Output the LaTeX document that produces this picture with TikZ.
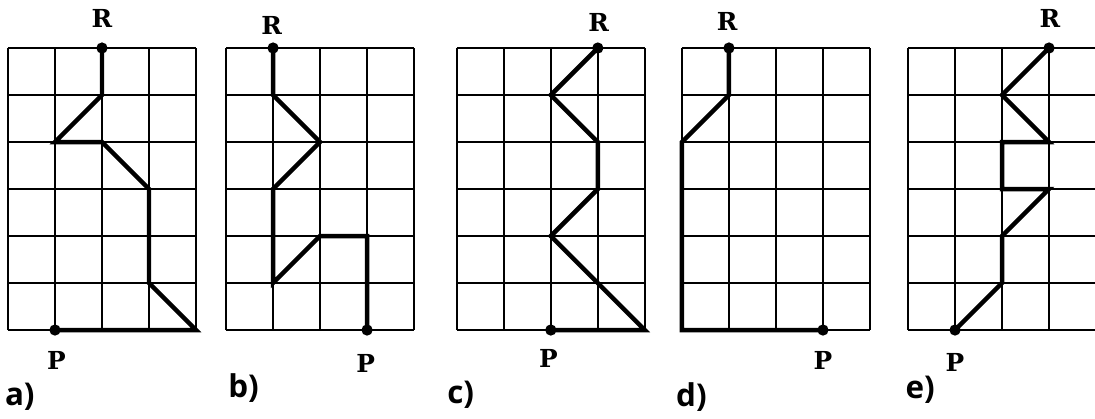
\documentclass[tikz,border=0pt]{standalone}
\usepackage{fontspec}
\newfontfamily\pointfont{DejaVu Serif}
\newfontfamily\taskfont{Open Sans}
\usetikzlibrary{positioning}

\tikzset{
  gridline/.style={black,line width=0.9pt},
  route/.style={black,line width=2.7pt,line join=miter,line cap=round},
  enddot/.style={circle,fill=black,inner sep=0pt,minimum size=0.24cm},
  pointlabel/.style={font=\pointfont\bfseries\fontsize{15}{17}\selectfont,inner sep=0pt},
  tasklabel/.style={font=\taskfont\bfseries\fontsize{19}{21}\selectfont,anchor=west,inner sep=0pt}
}

\begin{document}
\begin{tikzpicture}
\useasboundingbox (0,0) rectangle (23.298,8.894);

%grid a
\begin{scope}[shift={(0.17,1.872)}]
\draw[gridline] (0,0) grid (4,6);
\draw[route] (2,6) -- (2,5) -- (1,4) -- (2,4) -- (3,3) -- (3,1) -- (4,0) -- (1,0);
\node[enddot] (Ra) at (2,6) {};
\node[enddot] (Pa) at (1,0) {};
\node[pointlabel] (labRa) at (2,6.62) {R};
\node[pointlabel] (labPa) at (1.03,-0.64) {P};
\end{scope}

%grid b
\begin{scope}[shift={(4.81,1.872)}]
\draw[gridline] (0,0) grid (4,6);
\draw[route] (1,6) -- (1,5) -- (2,4) -- (1,3) -- (1,1) -- (2,2) -- (3,2) -- (3,0);
\node[enddot] (Rb) at (1,6) {};
\node[enddot] (Pb) at (3,0) {};
\node[pointlabel] (labRb) at (0.97,6.47) {R};
\node[pointlabel] (labPb) at (2.97,-0.72) {P};
\end{scope}

%grid c
\begin{scope}[shift={(9.72,1.872)}]
\draw[gridline] (0,0) grid (4,6);
\draw[route] (3,6) -- (2,5) -- (3,4) -- (3,3) -- (2,2) -- (4,0) -- (2,0);
\node[enddot] (Rc) at (3,6) {};
\node[enddot] (Pc) at (2,0) {};
\node[pointlabel] (labRc) at (3.02,6.55) {R};
\node[pointlabel] (labPc) at (1.95,-0.6) {P};
\end{scope}

%grid d
\begin{scope}[shift={(14.51,1.872)}]
\draw[gridline] (0,0) grid (4,6);
\draw[route] (1,6) -- (1,5) -- (0,4) -- (0,0) -- (3,0);
\node[enddot] (Rd) at (1,6) {};
\node[enddot] (Pd) at (3,0) {};
\node[pointlabel] (labRd) at (0.96,6.57) {R};
\node[pointlabel] (labPd) at (3.0,-0.64) {P};
\end{scope}

%grid e
\begin{scope}[shift={(19.32,1.872)}]
\draw[gridline] (0,0) grid (4,6);
\draw[route] (3,6) -- (2,5) -- (3,4) -- (2,4) -- (2,3) -- (3,3) -- (2,2) -- (2,1) -- (1,0);
\node[enddot] (Re) at (3,6) {};
\node[enddot] (Pe) at (1,0) {};
\node[pointlabel] (labRe) at (3.02,6.62) {R};
\node[pointlabel] (labPe) at (1.0,-0.68) {P};
\end{scope}

%task letters
\node[tasklabel] (ta) at (0.1,0.45) {a)};
\node[tasklabel] (tb) at (4.85,0.64) {b)};
\node[tasklabel] (tc) at (9.51,0.49) {c)};
\node[tasklabel] (td) at (14.38,0.45) {d)};
\node[tasklabel] (te) at (19.26,0.6) {e)};

\end{tikzpicture}
\end{document}
